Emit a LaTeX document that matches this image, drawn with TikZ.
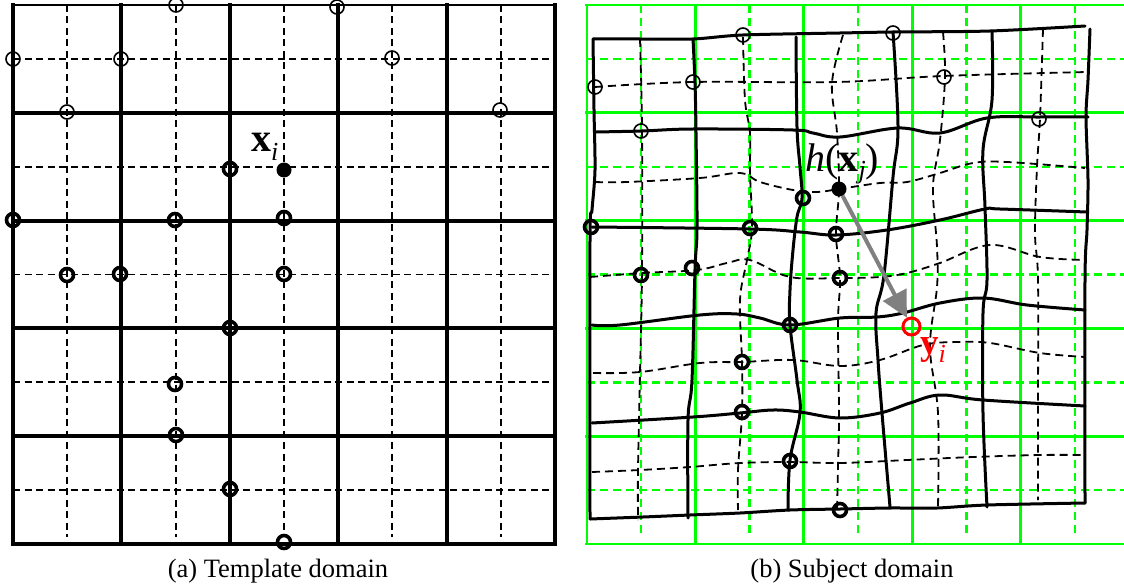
\documentclass[tikz,border=0pt]{standalone}
\usepackage{fontspec}
\setmainfont{Liberation Serif}
\usetikzlibrary{arrows.meta}
\definecolor{grn}{RGB}{0,255,0}
\definecolor{arrgray}{RGB}{128,128,128}
\tikzset{
  lsolid/.style={line width=4, line cap=rect},
  ldash/.style={line width=1.9, dash pattern=on 7 off 4.5},
  gsolid/.style={grn, line width=2.8},
  gdash/.style={grn, line width=2.4, dash pattern=on 8 off 5},
  rsolid/.style={line width=3, line cap=round, line join=round},
  rdash/.style={line width=1.8, dash pattern=on 8 off 5},
  thinc/.style={draw, line width=1.6},
  thickc/.style={draw, line width=3.6},
  lbl/.style={anchor=base west, inner sep=0, font=\fontsize{40}{40}\selectfont},
  captext/.style={anchor=base, inner sep=0, font=\fontsize{26.5}{26.5}\selectfont},
}
\newcommand{\subtxt}[2]{\raisebox{#1}{\fontsize{26}{26}\selectfont\textit{#2}}}
\begin{document}
\begin{tikzpicture}[x=1pt,y=-1pt]
\useasboundingbox (0,0) rectangle (1124,586);

% ---------- left panel: template grid ----------
\foreach \k in {1,3,5,7,9} {
  \draw[ldash] ({13+54.2*\k},5) -- ({13+54.2*\k},537);
  \draw[ldash] (13,{5+53.9*\k}) -- (555,{5+53.9*\k});
}
\foreach \k in {0,2,4,6,8,10} {
  \draw[lsolid] ({13+54.2*\k},5) -- ({13+54.2*\k},544);
}
\foreach \k in {2,4,6,8,10} {
  \draw[lsolid] (13,{5+53.9*\k}) -- (555,{5+53.9*\k});
}
\draw[line width=2] (13,5) -- (555,5);

% left circles
\foreach \p in {(176,5),(337,7),(13,59),(121,59),(392,58),(67,112),(500,110)}
  \draw[thinc] \p circle[radius=7];
\foreach \p in {(230,169),(13,220),(175,220),(284,218),(67,275),(120,274),(284,274),(230,328),(175,384),(176,435),(230,489),(284,542)}
  \draw[thickc] \p circle[radius=6.5];
\node[circle, fill=black, inner sep=0, minimum size=15] (xdot) at (284,170) {};
\node[lbl] (xlab) at (251,151) {\textbf{x}\subtxt{-9pt}{i}};

% ---------- right panel: green reference grid ----------
\begin{scope}
\clip (560,0) rectangle (1124,586);
\foreach \k in {1,3,5,7,9} {
  \draw[gdash] ({587+54.2*\k},5) -- ({587+54.2*\k},537);
  \draw[gdash] (587,{5+53.9*\k}) -- (1124,{5+53.9*\k});
}
\foreach \k in {0,2,4,6,8} {
  \draw[gsolid] ({587+54.2*\k},5) -- ({587+54.2*\k},544);
}
\foreach \k in {0,2,4,6,8,10} {
  \draw[gsolid] (585,{5+53.9*\k}) -- (1124,{5+53.9*\k});
}
\end{scope}

% ---------- right panel: warped grid ----------
% dashed rows
\draw[rdash] plot[smooth, tension=0.6] coordinates {(595,87) (693,82) (837,82) (943,76) (1087,72)};
\draw[rdash] plot[smooth, tension=0.6] coordinates {(595,182) (627,182) (700,178) (740,173) (760,182) (793,190) (817,192) (839,189) (880,183) (907,182) (940,173) (973,163) (1007,162) (1085,168)};
\draw[rdash] plot[smooth, tension=0.6] coordinates {(590,277) (642,273) (697,270) (727,263) (750,260) (790,277) (840,278) (880,277) (907,273) (940,263) (990,245) (1040,257) (1085,260)};
\draw[rdash] plot[smooth, tension=0.6] coordinates {(593,373) (640,372) (700,363) (742,362) (793,360) (840,366) (880,360) (923,345) (957,342) (990,343) (1040,353) (1085,357)};
\draw[rdash] plot[smooth, tension=0.6] coordinates {(592,472) (640,470) (690,467) (740,463) (790,462) (840,463) (907,460) (973,457) (1040,455) (1085,455)};
% dashed columns
\draw[rdash] plot[smooth, tension=0.6] coordinates {(640,39) (642,130) (642,273) (640,373) (638,470) (638,520)};
\draw[rdash] plot[smooth, tension=0.6] coordinates {(743,37) (745,100) (750,133) (750,173) (752,228) (747,260) (740,300) (742,362) (742,413) (738,470) (738,510)};
\draw[rdash] plot[smooth, tension=0.6] coordinates {(843,35) (832,83) (837,133) (839,189) (836,234) (840,278) (838,323) (839,413) (838,467) (837,510)};
\draw[rdash] plot[smooth, tension=0.6] coordinates {(943,32) (945,77) (940,140) (933,187) (937,247) (937,287) (930,347) (938,413) (938,507)};
\draw[rdash] plot[smooth, tension=0.6] coordinates {(1043,29) (1040,118) (1037,167) (1035,233) (1038,280) (1038,407) (1038,500)};

% solid outer boundary
\draw[rsolid] plot[smooth, tension=0.5] coordinates {(593,39) (640,39) (693,39) (743,35) (840,33) (893,32) (990,31) (1085,26)};
\draw[rsolid] plot[smooth, tension=0.5] coordinates {(593,39) (594,110) (595,170) (592,210) (590,240) (590,519)};
\draw[rsolid] plot[smooth, tension=0.5] coordinates {(590,519) (643,517) (690,515) (740,513) (790,510) (840,509) (890,508) (937,508) (987,505) (1085,503)};
\draw[rsolid] plot[smooth, tension=0.5] coordinates {(1090,29) (1088,80) (1086,117) (1088,180) (1087,230) (1085,280) (1085,503)};
% solid rows
\draw[rsolid] plot[smooth, tension=0.6] coordinates {(595,132) (642,131) (693,129) (793,130) (813,133) (840,137) (898,128) (940,133) (987,118) (1040,117) (1088,117)};
\draw[rsolid] plot[smooth, tension=0.6] coordinates {(592,227) (750,229) (800,232) (836,235) (887,230) (940,220) (985,209) (1000,209) (1087,212)};
\draw[rsolid] plot[smooth, tension=0.6] coordinates {(592,325) (620,325) (700,315) (737,314) (760,318) (790,325) (840,318) (877,317) (903,313) (940,303) (983,298) (1027,305) (1085,310)};
\draw[rsolid] plot[smooth, tension=0.6] coordinates {(592,423) (693,417) (740,413) (773,410) (800,412) (840,418) (880,413) (910,403) (940,395) (983,400) (1085,406)};
% solid columns
\draw[rsolid] plot[smooth, tension=0.6] coordinates {(693,39) (695,83) (696,133) (697,227) (695,270) (692,380) (688,420) (688,518)};
\draw[rsolid] plot[smooth, tension=0.6] coordinates {(796,37) (797,127) (800,167) (802,198) (797,217) (793,250) (790,290) (790,325) (797,380) (800,413) (790,460) (788,510)};
\draw[rsolid] plot[smooth, tension=0.6] coordinates {(893,32) (898,127) (893,177) (884,275) (876,313) (878,360) (882,413) (890,507)};
\draw[rsolid] plot[smooth, tension=0.6] coordinates {(992,32) (992,100) (983,150) (985,207) (987,280) (983,313) (983,413) (987,507)};

% right circles
\foreach \p in {(743,35),(595,87),(693,82),(641,131),(893,33),(944,77),(1039,119)}
  \draw[thinc] \p circle[radius=7];
\foreach \p in {(803,198),(591,227),(750,228),(836,234),(641,275),(692,268),(840,278),(790,325),(742,362),(742,412),(790,461),(840,510)}
  \draw[thickc] \p circle[radius=6.5];
\node[circle, fill=black, inner sep=0, minimum size=15] (hdot) at (839,189) {};
\node[circle, draw=red, line width=3, inner sep=0, minimum size=17] (ycirc) at (911.5,326.5) {};
\draw[arrgray, line width=4, -{Triangle[length=26pt,width=26pt]}] (hdot) -- (ycirc);

\node[lbl] (hlab) at (805,171) {\textit{h}(\textbf{x}\subtxt{-7pt}{j})};
\node[lbl, text=red, font=\fontsize{37}{37}\selectfont] (ylab) at (920,354) {\textbf{y}\subtxt{-8pt}{i}};

% captions
\node[captext] (capa) at (278,577) {(a) Template domain};
\node[captext] (capb) at (852,577) {(b) Subject domain};
\end{tikzpicture}
\end{document}
